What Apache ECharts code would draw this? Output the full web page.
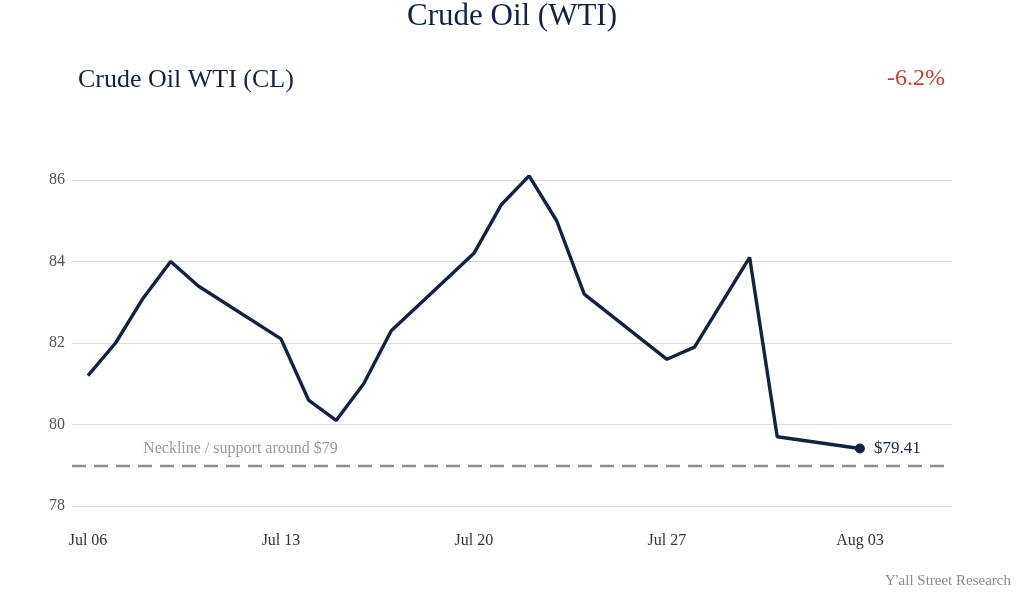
<!DOCTYPE html>
<html>
<head>
<meta charset="utf-8">
<script src="https://cdn.jsdelivr.net/npm/echarts@6/dist/echarts.min.js"></script>
<style>
html,body{margin:0;padding:0;background:#fff;}
#c{width:1024px;height:592px;}
</style>
</head>
<body>
<div id="c"></div>
<script>
const dates = ["2020-07-06","2020-07-07","2020-07-08","2020-07-09","2020-07-10",
  "2020-07-13","2020-07-14","2020-07-15","2020-07-16","2020-07-17",
  "2020-07-20","2020-07-21","2020-07-22","2020-07-23","2020-07-24",
  "2020-07-27","2020-07-28","2020-07-30","2020-07-31","2020-08-03"];
const prices = [81.2,82.0,83.1,84.0,83.4,
  82.1,80.6,80.1,81.0,82.3,
  84.2,85.4,86.1,85.0,83.2,
  81.6,81.9,84.1,79.7,79.41];
const tickLabels = ["Jul 06","Jul 13","Jul 20","Jul 27","Aug 03"];
const tickDates = ["2020-07-06","2020-07-13","2020-07-20","2020-07-27","2020-08-03"];
const yTicks = [78,80,82,84,86];
const supportLevel = 79;
const supportLabel = "Neckline / support around $79";
const supportLabelDate = "2020-07-08";
const lastLabel = "$79.41";
const changeText = "-6.2%";

const base = Date.UTC(2020,6,6);
const dayIdx = s => { const p = s.split('-').map(Number); return (Date.UTC(p[0],p[1]-1,p[2]) - base) / 86400000; };
const xs = dates.map(dayIdx);
const tickXs = tickDates.map(dayIdx);
const seriesData = xs.map((x,i)=>[x, prices[i]]);
const labelMap = {};
tickXs.forEach((x,i)=>labelMap[x]=tickLabels[i]);

const NAVY = '#13233f';
const FONT = '"Liberation Serif", "DejaVu Serif", serif';

const chart = echarts.init(document.getElementById('c'));
chart.setOption({
  backgroundColor: '#ffffff',
  animation: false,
  textStyle: { fontFamily: FONT },
  title: [
    { text: 'Crude Oil (WTI)', left: 'center', top: -4,
      textStyle: { fontFamily: FONT, fontSize: 31, fontWeight: 'normal', color: NAVY } },
    { text: 'Crude Oil WTI (CL)', left: 73, top: 62,
      textStyle: { fontFamily: FONT, fontSize: 26, fontWeight: 'normal', color: NAVY } },
    { text: changeText, right: 74, top: 62,
      textStyle: { fontFamily: FONT, fontSize: 24, fontWeight: 'normal', color: '#cc3c31' } },
    { text: "Y'all Street Research", right: 8, top: 569,
      textStyle: { fontFamily: FONT, fontSize: 15, fontWeight: 'normal', color: '#8a8a8a' } }
  ],
  grid: { left: 72, right: 72, top: 180, bottom: 86 },
  xAxis: {
    type: 'value',
    min: -0.58, max: 31.34,
    axisLine: { show: false },
    axisTick: { show: false },
    splitLine: { show: false },
    axisLabel: {
      customValues: tickXs,
      formatter: v => labelMap[v] || '',
      margin: 27,
      fontFamily: FONT, fontSize: 16, color: '#333'
    }
  },
  yAxis: {
    type: 'value',
    min: 78, max: 86, interval: 2,
    axisLine: { show: false },
    axisTick: { show: false },
    splitLine: { lineStyle: { color: '#dcdcdc', width: 1 } },
    axisLabel: { margin: 7, fontFamily: FONT, fontSize: 16, color: '#555' }
  },
  series: [{
    type: 'line',
    data: seriesData,
    clip: false,
    symbol: 'none',
    lineStyle: { color: NAVY, width: 3.4 },
    markLine: {
      silent: true,
      symbol: 'none',
      label: { show: false },
      lineStyle: { color: '#8c8c8c', width: 2.4, type: [14, 8] },
      data: [{ yAxis: supportLevel }]
    },
    markPoint: {
      silent: true,
      data: [
        { coord: [dayIdx(supportLabelDate), supportLevel], symbol: 'circle', symbolSize: 0,
          label: { show: true, formatter: supportLabel, position: [0, -24],
            fontFamily: FONT, fontSize: 16, color: '#9a9a9a' } },
        { coord: seriesData[seriesData.length-1], symbol: 'circle', symbolSize: 10,
          itemStyle: { color: NAVY },
          label: { show: true, formatter: lastLabel, position: 'right', distance: 9,
            fontFamily: FONT, fontSize: 17, color: NAVY } }
      ]
    }
  }]
});
</script>
</body>
</html>
